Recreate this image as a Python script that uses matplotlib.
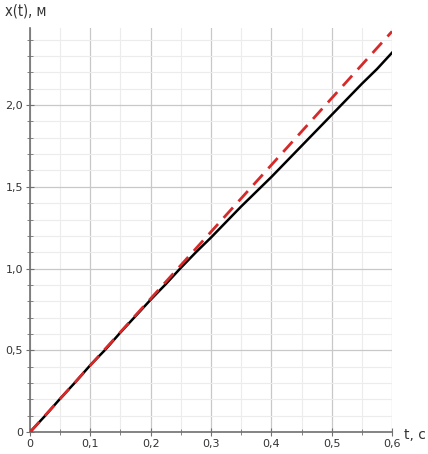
import matplotlib.pyplot as plt
from matplotlib.ticker import MultipleLocator, FuncFormatter

# Данные
t_exp = [0, 0.025, 0.05, 0.075, 0.1, 0.125, 0.15, 0.175, 0.2, 0.225, 0.25, 0.275,
         0.3, 0.325, 0.35, 0.375, 0.4, 0.425, 0.45, 0.475, 0.5, 0.525, 0.55, 0.575, 0.6]
x_exp = [0, 0.10, 0.205, 0.305, 0.41, 0.505, 0.61, 0.71, 0.81, 0.905, 1.005, 1.10,
         1.19, 1.285, 1.38, 1.47, 1.56, 1.655, 1.75, 1.845, 1.94, 2.035, 2.13, 2.22, 2.32]
t_theory = [0, 0.6]
x_theory = [0, 2.45]

plt.rcParams['font.family'] = ['DejaVu Sans']

fig = plt.figure(figsize=(4.28, 4.54), dpi=100)
ax = fig.add_axes([0.070, 0.048, 0.846, 0.890])

ax.plot(t_exp, x_exp, color='black', linewidth=1.8, zorder=3)
ax.plot(t_theory, x_theory, color='#d62a2a', linewidth=2.0, linestyle=(0, (5, 3)), zorder=4)

ax.set_xlim(0, 0.6)
ax.set_ylim(0, 2.47)

ax.xaxis.set_major_locator(MultipleLocator(0.1))
ax.xaxis.set_minor_locator(MultipleLocator(0.05))
ax.yaxis.set_major_locator(MultipleLocator(0.5))
ax.yaxis.set_minor_locator(MultipleLocator(0.1))

def comma(v, pos):
    if abs(v) < 1e-9:
        return '0'
    return f'{v:.1f}'.replace('.', ',')

ax.xaxis.set_major_formatter(FuncFormatter(comma))
ax.yaxis.set_major_formatter(FuncFormatter(comma))

ax.grid(which='major', color='#c8c8c8', linewidth=0.9)
ax.grid(which='minor', color='#ececec', linewidth=0.8)

for s in ['top', 'right']:
    ax.spines[s].set_visible(False)
for s in ['left', 'bottom']:
    ax.spines[s].set_color('#707070')
    ax.spines[s].set_linewidth(1.2)

ax.tick_params(which='major', direction='inout', length=6, color='#707070',
               labelsize=8, labelcolor='#333333', pad=2)
ax.tick_params(which='minor', direction='inout', length=4, color='#707070')

fig.text(0.012, 0.975, 'x(t), м', ha='left', va='center',
         fontsize=10.5, color='#333333', fontstretch='condensed')
fig.text(0.945, 0.042, 't, с', ha='left', va='center', fontsize=10, color='#333333')

plt.savefig('out.png', dpi=100)
